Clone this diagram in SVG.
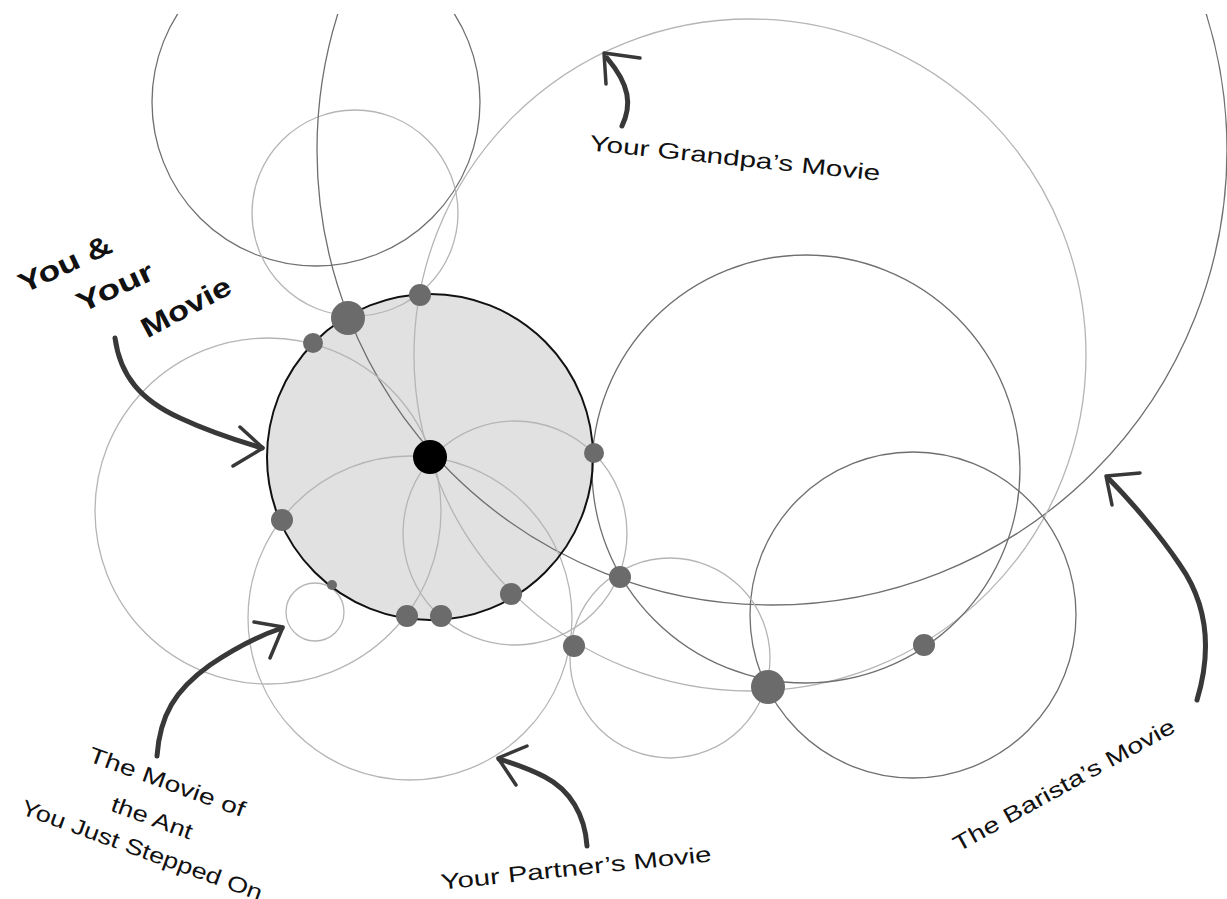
<svg xmlns="http://www.w3.org/2000/svg" width="1227" height="899" viewBox="0 0 1227 899">
<defs>
<clipPath id="clipTop"><rect x="0" y="14" width="1227" height="885"/></clipPath>
</defs>
<style>
.dk{fill:none;stroke:#6f6f6f;stroke-width:1.3}
.lt{fill:none;stroke:#b5b5b5;stroke-width:1.3}
.dot{fill:#6b6b6b}
.arw{fill:none;stroke:#383838;stroke-width:5;stroke-linecap:round;stroke-linejoin:round}
.ah{fill:none;stroke:#383838;stroke-width:3.5;stroke-linecap:round;stroke-linejoin:round}
.lbl{font-family:"Liberation Sans","DejaVu Sans",sans-serif;font-size:22px;fill:#111;text-anchor:middle;dominant-baseline:central}
.big{font-size:28px;font-weight:bold}
</style>
<rect width="1227" height="899" fill="#fff"/>
<g clip-path="url(#clipTop)">
<g id="you-fill"><circle cx="430" cy="457" r="163" fill="#e1e1e1"/></g>
<g id="movie-topleft"><circle class="dk" cx="316" cy="102" r="164"/></g>
<g id="movie-top"><circle class="lt" cx="355" cy="213" r="103"/></g>
<g id="movie-barista"><circle class="dk" cx="772" cy="150" r="455"/></g>
<g id="movie-grandpa"><circle class="lt" cx="750" cy="355" r="336"/></g>
<g id="movie-right"><circle class="dk" cx="806" cy="469" r="214"/></g>
<g id="movie-bottomright"><circle class="dk" cx="913" cy="615" r="163"/></g>
<g id="movie-small-bottom"><circle class="lt" cx="670" cy="658" r="100"/></g>
<g id="movie-middle"><circle class="lt" cx="515" cy="533" r="112"/></g>
<g id="movie-left"><circle class="lt" cx="268" cy="511" r="173"/></g>
<g id="movie-partner"><circle class="lt" cx="410" cy="618" r="162"/></g>
<g id="movie-ant"><circle class="lt" cx="315" cy="612" r="29"/></g>
<g id="you-stroke"><circle cx="430" cy="457" r="163" fill="none" stroke="#111" stroke-width="2"/></g>
</g>
<g id="intersections">
<circle class="dot" cx="348" cy="318" r="17"/>
<circle class="dot" cx="420" cy="295" r="11"/>
<circle class="dot" cx="313" cy="343" r="10"/>
<circle class="dot" cx="594" cy="453" r="10"/>
<circle class="dot" cx="282" cy="520" r="11"/>
<circle class="dot" cx="332" cy="585" r="5"/>
<circle class="dot" cx="407" cy="616" r="11"/>
<circle class="dot" cx="441" cy="616" r="11"/>
<circle class="dot" cx="511" cy="594" r="11"/>
<circle class="dot" cx="620" cy="577" r="11"/>
<circle class="dot" cx="574" cy="646" r="11"/>
<circle class="dot" cx="768" cy="687" r="17"/>
<circle class="dot" cx="924" cy="645" r="11"/>
</g>
<g id="you-center"><circle cx="430" cy="457" r="17" fill="#000"/></g>
<g id="connectors">
<path class="arw" d="M115,338 C120,375 140,400 180,418 C210,432 235,440 262,448"/>
<path class="ah" d="M240,427 L263,448 L233,466"/>
<path class="arw" d="M622,126 C632,105 630,85 607,58"/>
<path class="ah" d="M640,58 L604,53 L606,84"/>
<path class="arw" d="M157,756 C160,715 175,690 210,665 C235,648 258,636 282,628"/>
<path class="ah" d="M254,622 L283,627 L270,658"/>
<path class="arw" d="M587,846 C585,815 570,790 545,777 C528,768 512,763 499,759"/>
<path class="ah" d="M527,746 L498,758 L516,785"/>
<path class="arw" d="M1197,700 C1212,650 1208,605 1180,565 C1160,535 1130,500 1108,478"/>
<path class="ah" d="M1140,473 L1106,476 L1112,505"/>
</g>
<g id="labels">
<text class="lbl big" transform="translate(65,264) rotate(-25)" textLength="100" lengthAdjust="spacingAndGlyphs">You &amp;</text>
<text class="lbl big" transform="translate(115,287) rotate(-25)" textLength="82" lengthAdjust="spacingAndGlyphs">Your</text>
<text class="lbl big" transform="translate(186,307) rotate(-28)" textLength="98" lengthAdjust="spacingAndGlyphs">Movie</text>
<text class="lbl" transform="translate(735,158) rotate(6)" textLength="292" lengthAdjust="spacingAndGlyphs">Your Grandpa’s Movie</text>
<text class="lbl" transform="translate(576,868) rotate(-6)" textLength="272" lengthAdjust="spacingAndGlyphs">Your Partner’s Movie</text>
<text class="lbl" transform="translate(1064,785) rotate(-29)" textLength="250" lengthAdjust="spacingAndGlyphs">The Barista’s Movie</text>
<text class="lbl" transform="translate(167,782) rotate(20)" textLength="165" lengthAdjust="spacingAndGlyphs">The Movie of</text>
<text class="lbl" transform="translate(152,818) rotate(20)" textLength="85" lengthAdjust="spacingAndGlyphs">the Ant</text>
<text class="lbl" transform="translate(142,850) rotate(20)" textLength="255" lengthAdjust="spacingAndGlyphs">You Just Stepped On</text>
</g>
</svg>
